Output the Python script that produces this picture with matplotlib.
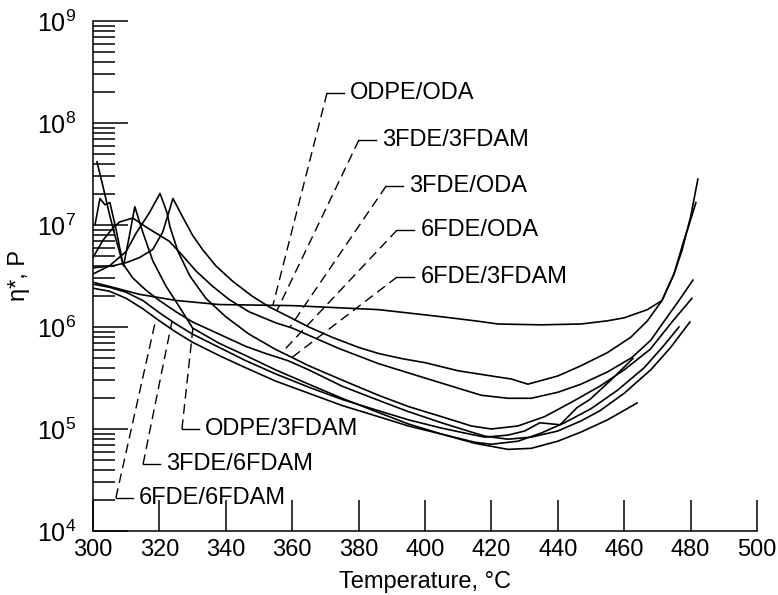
import numpy as np
import matplotlib
matplotlib.use('Agg')
import matplotlib.pyplot as plt
from matplotlib.ticker import LogLocator, NullFormatter, MultipleLocator

plt.rcParams['font.family'] = ['Liberation Sans', 'DejaVu Sans']
plt.rcParams['mathtext.fontset'] = 'custom'
plt.rcParams['mathtext.rm'] = 'Liberation Sans'
plt.rcParams['mathtext.it'] = 'Liberation Sans:italic'

# complex viscosity eta* (P) against temperature (C), one run per polyimide
odpe_oda_T = [300, 307, 314, 325, 338, 360, 386, 405, 415, 422, 435, 447, 455, 460, 467, 471.4, 475, 478, 480, 481.6]
odpe_oda_eta = [2.75e6, 2.40e6, 2.09e6, 1.82e6, 1.66e6, 1.62e6, 1.48e6, 1.26e6, 1.15e6, 1.07e6,
                1.05e6, 1.07e6, 1.15e6, 1.23e6, 1.48e6, 1.82e6, 3.31e6, 7.08e6, 1.12e7, 1.66e7]

fde3_fdam3_T = [300, 306, 310, 314, 318, 321, 324.1, 327, 330, 333, 337, 342, 348, 353, 359, 365, 372, 380,
                386, 393, 400, 410, 420, 426, 431, 440, 447, 455, 462, 467, 471.4, 475, 477.4, 480, 482.2]
fde3_fdam3_eta = [3.80e6, 3.98e6, 4.27e6, 4.79e6, 5.75e6, 8.51e6, 1.82e7, 1.20e7, 7.94e6, 5.75e6, 3.98e6,
                  2.82e6, 2.00e6, 1.58e6, 1.26e6, 1.00e6, 7.94e5, 6.31e5, 5.50e5, 4.90e5, 4.47e5, 3.72e5,
                  3.31e5, 3.09e5, 2.75e5, 3.31e5, 4.17e5, 5.62e5, 7.94e5, 1.15e6, 1.82e6, 3.31e6, 5.62e6,
                  1.20e7, 2.82e7]

fde3_oda_T = [300, 303, 306, 308, 312, 316, 320, 323, 327, 331, 336, 341, 347, 355, 360, 367, 374, 386,
              400, 410, 417, 425, 432, 440, 447, 455, 462.3, 468, 472.3, 476.5, 480.7]
fde3_oda_eta = [4.79e6, 7.08e6, 9.33e6, 1.07e7, 1.17e7, 9.55e6, 7.94e6, 6.92e6, 5.01e6, 3.55e6, 2.51e6,
                1.86e6, 1.41e6, 1.10e6, 9.77e5, 7.76e5, 6.17e5, 4.37e5, 3.16e5, 2.51e5, 2.14e5, 2.00e5,
                2.00e5, 2.29e5, 2.75e5, 3.63e5, 5.01e5, 7.41e5, 1.17e6, 1.82e6, 2.88e6]

fde6_oda_T = [300, 305, 310, 313, 317, 320.2, 322.3, 323.2, 325.6, 329.2, 334, 340, 347, 355, 365, 375,
              386, 395, 405, 414, 420, 428, 436, 444, 452.7, 460, 467.8, 474.4, 480.4]
fde6_oda_eta = [3.31e6, 3.98e6, 5.50e6, 8.32e6, 1.32e7, 2.04e7, 1.32e7, 9.55e6, 5.50e6, 3.16e6, 1.91e6,
                1.26e6, 8.51e5, 6.03e5, 4.17e5, 3.02e5, 2.14e5, 1.66e5, 1.32e5, 1.07e5, 1.00e5, 1.07e5,
                1.32e5, 1.82e5, 2.63e5, 3.80e5, 6.03e5, 1.12e6, 1.91e6]

fde6_fdam3_T = [300.6, 302.1, 303.6, 305.1, 307, 309, 312, 316, 320, 325, 330, 338, 346, 352, 358.7, 365,
                375, 386, 395, 405, 412, 418, 425, 432, 440, 447, 452.7, 460, 468, 474, 479.8]
fde6_fdam3_eta = [1.00e7, 1.82e7, 1.58e7, 1.66e7, 8.91e6, 4.17e6, 3.02e6, 2.29e6, 1.82e6, 1.41e6, 1.12e6,
                  8.51e5, 6.46e5, 5.50e5, 4.68e5, 3.80e5, 2.63e5, 1.91e5, 1.48e5, 1.15e5, 9.77e4, 8.51e4,
                  7.94e4, 8.32e4, 9.55e4, 1.20e5, 1.51e5, 2.24e5, 3.80e5, 6.31e5, 1.12e6]

odpe_fdam3_T = [301.2, 303, 305, 307, 309.2, 311, 312.6, 315, 318, 322, 326, 330, 338, 346, 355, 365, 375,
                386, 395, 405, 415, 425, 432, 440, 447, 455, 463.9]
odpe_fdam3_eta = [4.17e7, 2.40e7, 1.26e7, 7.08e6, 3.98e6, 7.94e6, 1.51e7, 8.51e6, 4.47e6, 2.51e6, 1.58e6,
                  9.77e5, 6.92e5, 5.25e5, 3.80e5, 2.75e5, 2.00e5, 1.45e5, 1.12e5, 8.91e4, 7.24e4, 6.31e4,
                  6.46e4, 7.59e4, 9.33e4, 1.23e5, 1.80e5]

fde3_fdam6_T = [300, 305, 310, 315, 320, 325, 330, 338, 346, 355, 365, 375, 386, 395, 405, 412, 418, 425,
                430, 434.6, 440.7, 445.8, 449.7, 456, 462.6]
fde3_fdam6_eta = [2.63e6, 2.45e6, 2.19e6, 1.82e6, 1.38e6, 1.07e6, 8.51e5, 6.31e5, 4.68e5, 3.47e5, 2.57e5,
                  1.95e5, 1.51e5, 1.23e5, 1.02e5, 9.12e4, 8.32e4, 8.71e4, 9.55e4, 1.15e5, 1.10e5, 1.62e5,
                  1.95e5, 3.02e5, 4.90e5]

fde6_fdam6_T = [300, 305, 310, 315, 320, 325, 330, 338, 346, 355, 365, 375, 386, 395, 405, 415, 420, 428,
                435, 442, 450, 458, 466, 472, 476.5]
fde6_fdam6_eta = [2.40e6, 2.24e6, 1.91e6, 1.51e6, 1.15e6, 8.91e5, 7.08e5, 5.25e5, 3.98e5, 2.95e5, 2.24e5,
                  1.70e5, 1.32e5, 1.07e5, 8.91e4, 7.41e4, 7.08e4, 7.59e4, 9.12e4, 1.15e5, 1.58e5, 2.40e5,
                  3.98e5, 6.61e5, 1.00e6]

curves = {
    'ODPE/ODA': (odpe_oda_T, odpe_oda_eta),
    '3FDE/3FDAM': (fde3_fdam3_T, fde3_fdam3_eta),
    '3FDE/ODA': (fde3_oda_T, fde3_oda_eta),
    '6FDE/ODA': (fde6_oda_T, fde6_oda_eta),
    '6FDE/3FDAM': (fde6_fdam3_T, fde6_fdam3_eta),
    'ODPE/3FDAM': (odpe_fdam3_T, odpe_fdam3_eta),
    '3FDE/6FDAM': (fde3_fdam6_T, fde3_fdam6_eta),
    '6FDE/6FDAM': (fde6_fdam6_T, fde6_fdam6_eta),
}

# label callouts: name, elbow temperature, label height (P), temperature where the leader meets the curve
callouts = [
    ('ODPE/ODA', 370.5, 1.97e8, 354.2),
    ('3FDE/3FDAM', 380.1, 6.81e7, 355.4),
    ('3FDE/ODA', 388.3, 2.41e7, 359.3),
    ('6FDE/ODA', 391.6, 8.93e6, 356.9),
    ('6FDE/3FDAM', 391.6, 3.09e6, 358.7),
    ('ODPE/3FDAM', 326.8, 1.00e5, 330.1),
    ('3FDE/6FDAM', 315.1, 4.54e4, 323.8),
    ('6FDE/6FDAM', 306.9, 2.11e4, 319.0),
]

fig = plt.figure(figsize=(7.78, 5.95), dpi=100)
ax = fig.add_axes([0.1195, 0.1076, 0.8535, 0.8571])

for name, (T, eta) in curves.items():
    ax.plot(T, eta, color='black', lw=1.2)

for name, t_elbow, y_lab, t_hit in callouts:
    T, eta = curves[name]
    y_hit = 10 ** np.interp(t_hit, T, np.log10(eta))
    ax.plot([t_elbow, t_hit], [y_lab, y_hit], color='black', lw=1.0, ls=(0, (7, 4)))
    ax.plot([t_elbow, t_elbow + 5.1], [y_lab, y_lab], color='black', lw=1.0)
    ax.text(t_elbow + 7.0, y_lab, name, fontsize=17, va='center', ha='left')

ax.set_yscale('log')
ax.set_xlim(300, 500)
ax.set_ylim(1e4, 1e9)
ax.spines['top'].set_visible(False)
ax.spines['right'].set_visible(False)
ax.spines['left'].set_linewidth(1.1)
ax.spines['bottom'].set_linewidth(1.1)

ax.xaxis.set_major_locator(MultipleLocator(20))
ax.yaxis.set_major_locator(LogLocator(base=10))
ax.yaxis.set_minor_locator(LogLocator(base=10, subs=np.arange(2, 10)))
ax.yaxis.set_minor_formatter(NullFormatter())
ax.tick_params(axis='x', which='major', direction='in', length=22, width=1.1, labelsize=17, pad=6)
ax.tick_params(axis='y', which='major', direction='in', length=25, width=1.1, labelsize=18, pad=12)
ax.tick_params(axis='y', which='minor', direction='in', length=16, width=1.1)

ax.set_xlabel('Temperature, °C', fontsize=17, labelpad=7)
ax.set_ylabel('η*, P', fontsize=17)
ax.yaxis.set_label_coords(-0.095, 0.5)

fig.savefig('out.png', dpi=100)
